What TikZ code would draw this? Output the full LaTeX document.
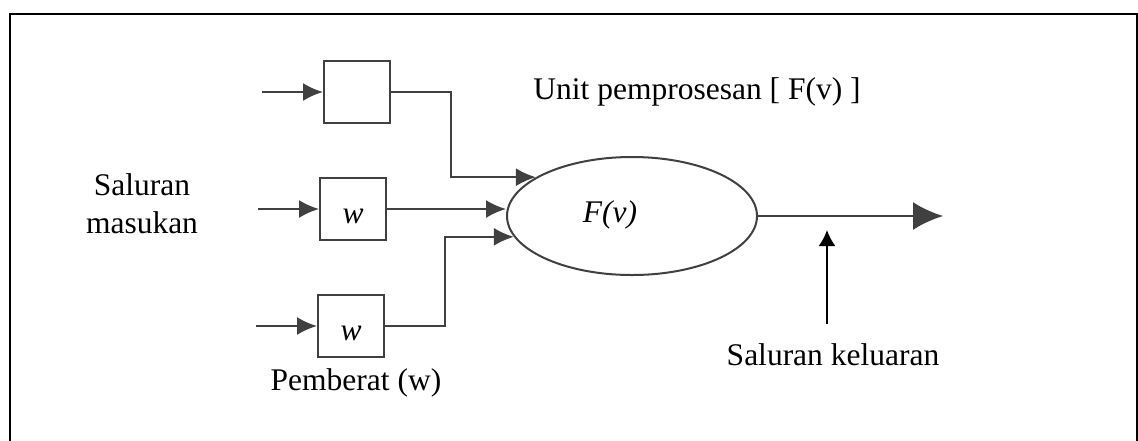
\documentclass[tikz,border=0pt]{standalone}
\usepackage{fontspec}
\setmainfont{Liberation Serif}
\usetikzlibrary{arrows.meta,shapes.geometric}

\begin{document}
\begin{tikzpicture}[x=0.5pt, y=-0.5pt, >={Latex[length=10pt,width=9pt]},
    font=\fontsize{15.75}{19}\selectfont,
    wbox/.style={draw=black!75, line width=1pt, minimum width=33pt, minimum height=31pt,
        inner sep=0pt, text height=14pt, text depth=0pt},
    procnode/.style={draw=black!75, line width=1pt, ellipse, minimum width=125pt,
        minimum height=59pt, inner sep=0pt},
    txt/.style={inner sep=0pt, anchor=base},
    conn/.style={draw=black!75, line width=1.1pt}]
    \useasboundingbox (0,0) rectangle (1138,440);

    % 1. Bingkai
    \draw[line width=1pt] (10,14) rectangle (1137,470);

    % 2. Kotak pemberat dan unit pemprosesan
    \node[wbox] (b1) at (357,92) {};
    \node[wbox] (b2) at (353,209) {\textit{w}};
    \node[wbox] (b3) at (351,326) {\textit{w}};
    \node[procnode] (fv) at (632,216) {};
    \node[txt] (fvtext) at (610,222) {\textit{F(v)}};

    % 3. Saluran masukan
    \coordinate (in1) at (262,92);
    \coordinate (in2) at (258,209);
    \coordinate (in3) at (256,326);
    \draw[conn, ->] (in1) -- (b1.west);
    \draw[conn, ->] (in2) -- (b2.west);
    \draw[conn, ->] (in3) -- (b3.west);

    % 4. Sambungan ke F(v)
    \draw[conn, ->] (b1.east) -- ++(60,0) |- (fv.158);
    \draw[conn, ->] (b2.east) -- (b2.east -| fv.west);
    \draw[conn, ->] (b3.east) -- ++(60,0) |- (fv.190);

    % 5. Saluran keluaran
    \coordinate (outp) at (943,216);
    \draw[conn, -{Latex[length=15pt,width=14pt]}] (fv.east) -- (outp);
    \coordinate (upt) at (827,230);
    \node[txt] (kel) at (833,365) {Saluran keluaran};
    \draw[line width=1pt, -{Latex[length=8pt,width=8.5pt]}] ([yshift=9.5pt, xshift=-3pt]kel.north) -- (upt);

    % 6. Label
    \node[align=center, inner sep=0pt] (masuk) at (142,204) {Saluran\\masukan};
    \node[txt] (pemberat) at (356,390) {Pemberat (w)};
    \node[txt] (unit) at (697,99) {Unit pemprosesan [ F(v) ]};

\end{tikzpicture}
\end{document}
